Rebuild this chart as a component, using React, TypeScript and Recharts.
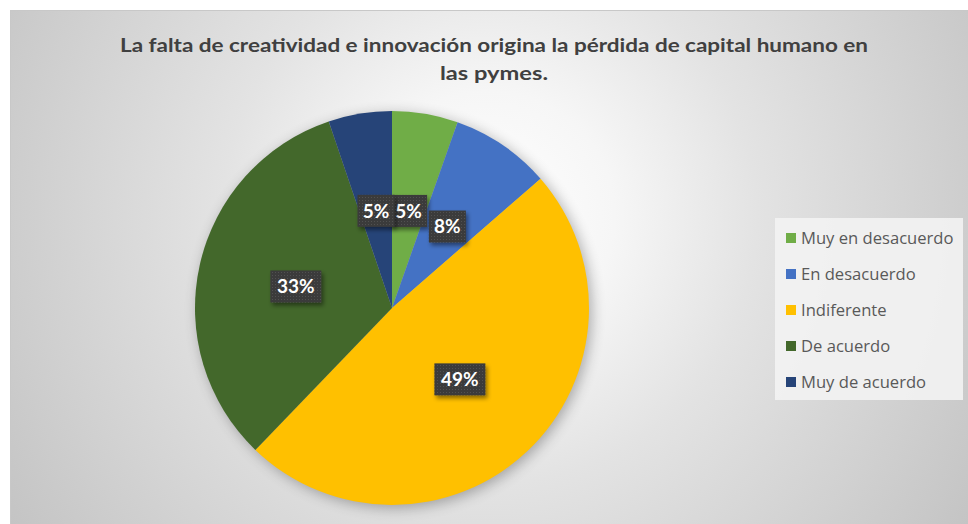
import React from 'react';
import { PieChart, Pie, Cell, Legend } from 'recharts';

const categories = ['Muy en desacuerdo', 'En desacuerdo', 'Indiferente', 'De acuerdo', 'Muy de acuerdo'];
const values = [5.4, 8.2, 48.6, 32.6, 5.2];
const colors = ['#70ad47', '#4472c4', '#ffc000', '#43682b', '#264478'];
const titleLines = ['La falta de creatividad e innovación origina la pérdida de capital humano en', 'las pymes.'];

const data = categories.map((name, i) => ({ name, value: values[i] }));
const total = values.reduce((a, b) => a + b, 0);
const shadowData = [{ name: 'shadow', value: total }];

const RAD = Math.PI / 180;

const renderLabel = (props: any) => {
  const { cx, cy, midAngle, outerRadius, percent } = props;
  const r = outerRadius * 0.5;
  const x = cx + r * Math.cos(-midAngle * RAD);
  const y = cy + r * Math.sin(-midAngle * RAD);
  const text = Math.round(percent * 100 + 1e-9) + '%';
  const w = text.length <= 2 ? 37 : 51;
  const h = 32;
  return (
    <g>
      <rect x={x - w / 2} y={y - h / 2} width={w} height={h} fill="url(#dotPat)" filter="url(#lblShadow)" />
      <text x={x} y={y} dy="0.36em" textAnchor="middle" fill="#ffffff" fontSize={19} fontWeight={700} fontFamily="Lato">
        {text}
      </text>
    </g>
  );
};

const renderLegend = () => (
  <div style={{ width: 188, height: 182, background: 'rgba(242,242,242,0.92)', boxSizing: 'border-box', paddingTop: 2 }}>
    {categories.map((c, i) => (
      <div key={c} style={{ display: 'flex', alignItems: 'center', height: 36, paddingLeft: 11 }}>
        <span style={{ width: 10, height: 10, background: colors[i], marginRight: 5, display: 'inline-block' }} />
        <span style={{ fontFamily: 'Open Sans', fontSize: 16.6, color: '#595959', lineHeight: '20px' }}>{c}</span>
      </div>
    ))}
  </div>
);

export default function App() {
  return (
    <div style={{ position: 'absolute', left: 10, top: 10, width: 958, height: 514, overflow: 'hidden',
      background: 'radial-gradient(circle farthest-corner at 50% 40%, #ffffff 0%, #f6f6f6 22%, #e3e3e3 47%, #c4c4c4 100%)',
      borderTop: '1px solid #c8c8c8', borderLeft: '1px solid #c8c8c8', boxSizing: 'border-box' }}>
      <svg width={0} height={0} style={{ position: 'absolute' }}>
        <defs>
          <pattern id="dotPat" width="3" height="3" patternUnits="userSpaceOnUse">
            <rect width="3" height="3" fill="#3a3a3a" />
            <circle cx="1.5" cy="1.5" r="0.6" fill="#555555" />
          </pattern>
          <filter id="lblShadow" x="-30%" y="-30%" width="160%" height="170%">
            <feDropShadow dx="2" dy="3" stdDeviation="2" floodColor="#000" floodOpacity="0.45" />
          </filter>
          <filter id="pieGlow" x="-20%" y="-20%" width="140%" height="140%">
            <feGaussianBlur in="SourceAlpha" stdDeviation="7" />
            <feOffset dx="3" dy="3" result="b" />
            <feComponentTransfer>
              <feFuncA type="linear" slope="0.3" />
            </feComponentTransfer>
          </filter>
        </defs>
      </svg>
      <PieChart width={958} height={514} margin={{ top: 0, right: 0, bottom: 0, left: 0 }}
        style={{ position: 'absolute', left: -1, top: -1 }}>
        <Pie data={shadowData} dataKey="value" cx={382} cy={298} outerRadius={197} startAngle={90} endAngle={-270}
          isAnimationActive={false} label={false} legendType="none" stroke="none">
          <Cell fill="#000000" filter="url(#pieGlow)" />
        </Pie>
        <Pie data={data} dataKey="value" nameKey="name" cx={382} cy={298} outerRadius={197} startAngle={90} endAngle={-270}
          isAnimationActive={false} label={renderLabel} labelLine={false} stroke="none">
          {data.map((d, i) => (
            <Cell key={d.name} fill={colors[i]} />
          ))}
        </Pie>
        <Legend content={renderLegend} wrapperStyle={{ position: 'absolute', left: 765, top: 208, width: 188, height: 182 }} />
      </PieChart>
      <svg width={958} height={100} style={{ position: 'absolute', left: -1, top: -1 }}>
        <text x={484} y={42} textAnchor="middle" fontFamily="Lato" fontWeight={700} fontSize={19} fill="#404040"
          textLength={748} lengthAdjust="spacingAndGlyphs">{titleLines[0]}</text>
        <text x={484} y={70} textAnchor="middle" fontFamily="Lato" fontWeight={700} fontSize={19} fill="#404040"
          textLength={108} lengthAdjust="spacingAndGlyphs">{titleLines[1]}</text>
      </svg>
    </div>
  );
}
